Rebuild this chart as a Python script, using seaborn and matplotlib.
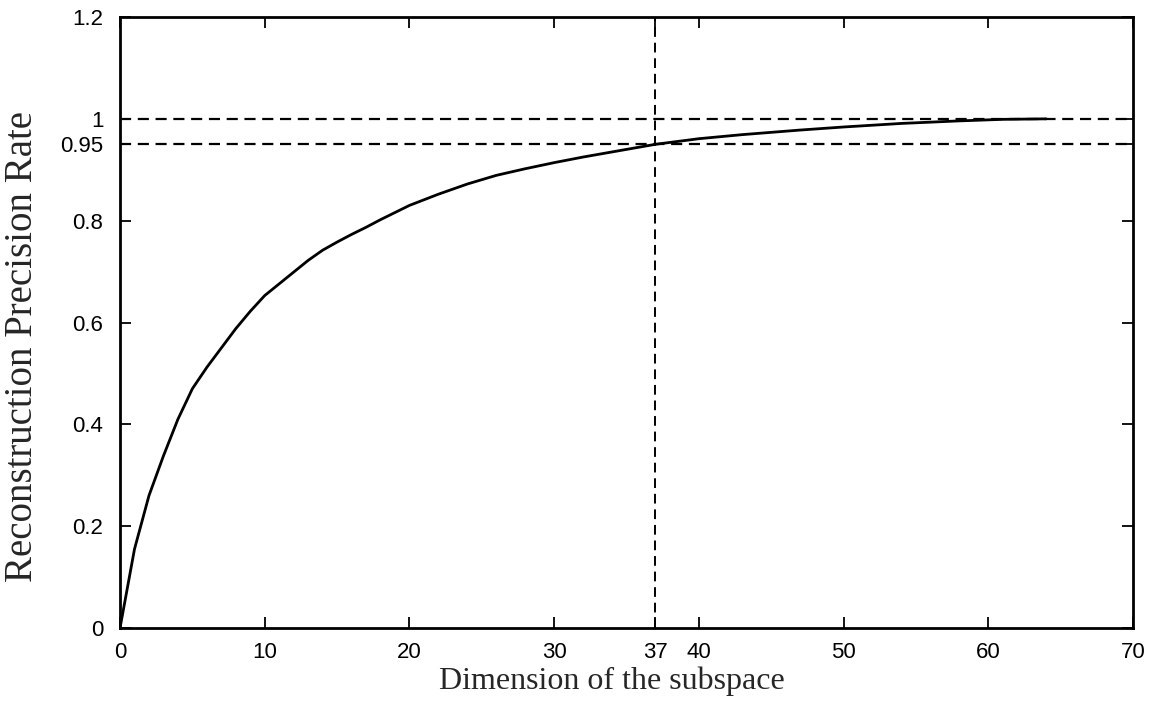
import matplotlib
matplotlib.use("Agg")
import matplotlib.pyplot as plt
import seaborn as sns
import pandas as pd

# ---- data ----
dims = [0, 1, 2, 3, 4, 5, 6, 7, 8, 9, 10, 11, 12, 13, 14, 15, 16, 17, 18,
        20, 22, 24, 26, 28, 30, 32, 34, 37, 40, 43, 47, 50, 54, 58, 61, 64]
precision = [0.0, 0.155, 0.26, 0.338, 0.41, 0.47, 0.512, 0.55, 0.588, 0.622,
             0.653, 0.676, 0.699, 0.722, 0.742, 0.758, 0.773, 0.787, 0.802,
             0.83, 0.852, 0.872, 0.889, 0.902, 0.914, 0.925, 0.935, 0.95,
             0.961, 0.969, 0.978, 0.984, 0.991, 0.996, 0.999, 1.0]
ref_levels = [1.0, 0.95]
ref_dim = 37
x_ticks = [0, 10, 20, 30, 37, 40, 50, 60, 70]
x_tick_labels = ["0", "10", "20", "30", "37", "40", "50", "60", "70"]
y_ticks = [0, 0.2, 0.4, 0.6, 0.8, 0.95, 1.0, 1.2]
y_tick_labels = ["0", "0.2", "0.4", "0.6", "0.8", "0.95", "1", "1.2"]
x_label = "Dimension of the subspace"
y_label = "Reconstruction Precision Rate"

df = pd.DataFrame({"dim": dims, "rate": precision})

sns.set_theme(style="ticks")
plt.rcParams["font.family"] = ["Liberation Sans", "DejaVu Sans"]

fig = plt.figure(figsize=(11.53, 7.21), dpi=100)
ax = fig.add_axes([0.1041, 0.129, 0.9827 - 0.1041, 0.9764 - 0.129])

sns.lineplot(data=df, x="dim", y="rate", ax=ax, color="black", linewidth=2.0)

for lvl in ref_levels:
    ax.axhline(lvl, color="black", linestyle=(0, (5, 3)), linewidth=1.6)
ax.axvline(ref_dim, color="black", linestyle=(0, (5, 3)), linewidth=1.4)

ax.set_xlim(0, 70)
ax.set_ylim(0, 1.2)
ax.set_xticks(x_ticks)
ax.set_xticklabels(x_tick_labels)
ax.set_yticks(y_ticks)
ax.set_yticklabels(y_tick_labels)

ax.tick_params(direction="in", length=8, width=1.3, colors="black",
               labelsize=16, top=True, right=True, pad=12)
ax.tick_params(axis="x", pad=10)

for sp in ax.spines.values():
    sp.set_visible(True)
    sp.set_color("black")
    sp.set_linewidth(2.0)

ax.set_xlabel(x_label, family=["Liberation Serif", "DejaVu Serif"], fontsize=23)
ax.set_ylabel(y_label, family=["Liberation Serif", "DejaVu Serif"], fontsize=28)
ax.xaxis.set_label_coords(0.486, -0.063)
ax.yaxis.set_label_coords(-0.078, 0.46)
ax.xaxis.label.set_va("top")

fig.savefig("out.png", dpi=100, facecolor="white")
